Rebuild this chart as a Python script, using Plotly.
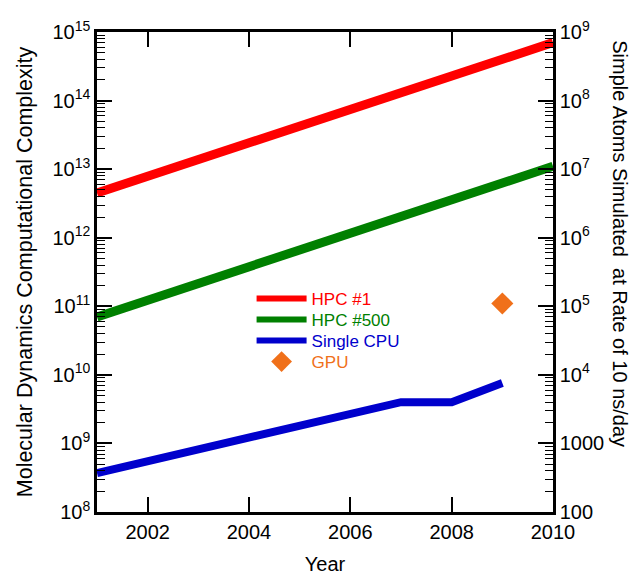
import plotly.graph_objects as go

# Growth of molecular-dynamics computational capacity
hpc1_years = [2001, 2010]
hpc1_values = [4.5e12, 7.0e14]

hpc500_years = [2001, 2010]
hpc500_values = [7.0e10, 1.1e13]

cpu_years = [2001, 2007, 2008, 2009]
cpu_values = [3.7e8, 4.0e9, 4.0e9, 7.6e9]

gpu_years = [2009]
gpu_values = [1.1e11]

left_tick_vals = [1e8, 1e9, 1e10, 1e11, 1e12, 1e13, 1e14, 1e15]
left_tick_text = ["10<sup>8</sup>", "10<sup>9</sup>", "10<sup>10</sup>", "10<sup>11</sup>",
                  "10<sup>12</sup>", "10<sup>13</sup>", "10<sup>14</sup>", "10<sup>15</sup>"]
right_tick_vals = [1e2, 1e3, 1e4, 1e5, 1e6, 1e7, 1e8, 1e9]
right_tick_text = ["100", "1000", "10<sup>4</sup>", "10<sup>5</sup>", "10<sup>6</sup>",
                   "10<sup>7</sup>", "10<sup>8</sup>", "10<sup>9</sup>"]
year_ticks = [2002, 2004, 2006, 2008, 2010]

RED = "#ff0000"
GREEN = "#008000"
BLUE = "#0000cc"
ORANGE = "#f0701a"
FONT = "Liberation Sans, Arial, sans-serif"

fig = go.Figure()

fig.add_trace(go.Scatter(x=hpc1_years, y=hpc1_values, mode="lines",
                         line=dict(color=RED, width=9), showlegend=False))
fig.add_trace(go.Scatter(x=hpc500_years, y=hpc500_values, mode="lines",
                         line=dict(color=GREEN, width=9), showlegend=False))
fig.add_trace(go.Scatter(x=cpu_years, y=cpu_values, mode="lines",
                         line=dict(color=BLUE, width=8), showlegend=False))
fig.add_trace(go.Scatter(x=gpu_years, y=gpu_values, mode="markers",
                         marker=dict(symbol="diamond", size=17, color=ORANGE),
                         showlegend=False))

# one small legend per entry so the rows can sit close together
legend_items = [("HPC #1", RED, "lines"), ("HPC #500", GREEN, "lines"),
                ("Single CPU", BLUE, "lines"), ("GPU", ORANGE, "markers")]
legend_tops = [0.48125, 0.4375, 0.39375, 0.35]
legend_layouts = {}
for i, ((name, color, mode), top) in enumerate(zip(legend_items, legend_tops)):
    key = "legend" if i == 0 else f"legend{i + 1}"
    fig.add_trace(go.Scatter(
        x=[None], y=[None], mode=mode, legend=key,
        name=f"<span style='color:{color}'>{name}</span>",
        line=dict(color=color, width=6),
        marker=dict(symbol="diamond", size=17, color=color),
    ))
    legend_layouts[key] = dict(
        x=0.339, y=top, xanchor="left", yanchor="top",
        bgcolor="rgba(0,0,0,0)", borderwidth=0,
        font=dict(family=FONT, size=17), itemwidth=50,
    )

# right-hand axis: atoms simulated (left value / 1e6)
fig.add_trace(go.Scatter(x=[None], y=[None], yaxis="y2", showlegend=False))

axis_common = dict(
    showline=True, linecolor="black", linewidth=2.5,
    ticks="inside", ticklen=15, tickwidth=1.5, tickcolor="black",
    showgrid=False, zeroline=False, automargin=False,
    tickfont=dict(family=FONT, size=20, color="black"),
)

fig.update_layout(
    width=631, height=575,
    margin=dict(l=97, r=78, t=32, b=63, autoexpand=False),
    plot_bgcolor="white", paper_bgcolor="white",
    font=dict(family=FONT, color="black"),
    xaxis=dict(
        range=[2001, 2010], tickvals=year_ticks, mirror="ticks",
        title=dict(text="Year", font=dict(family=FONT, size=20, color="black"), standoff=20),
        **axis_common,
    ),
    yaxis=dict(
        type="log", range=[8, 15], tickvals=left_tick_vals, ticktext=left_tick_text,
        minor=dict(ticks="inside", ticklen=8, tickwidth=1.2, tickcolor="black", dtick="D1"),
        title=dict(text="Molecular Dynamics Computational Complexity",
                   font=dict(family=FONT, size=21.5, color="black"), standoff=14),
        **axis_common,
    ),
    yaxis2=dict(
        type="log", range=[2, 9], overlaying="y", side="right",
        tickvals=right_tick_vals, ticktext=right_tick_text,
        minor=dict(ticks="inside", ticklen=8, tickwidth=1.2, tickcolor="black", dtick="D1"),
        **axis_common,
    ),
    annotations=[dict(
        text="Simple Atoms Simulated  at Rate of 10 ns/day",
        xref="paper", yref="paper", x=1.0, y=0.56,
        xshift=80, textangle=90, showarrow=False,
        font=dict(family=FONT, size=20, color="black"),
    )],
    **legend_layouts,
)

fig.write_html("out.html")
